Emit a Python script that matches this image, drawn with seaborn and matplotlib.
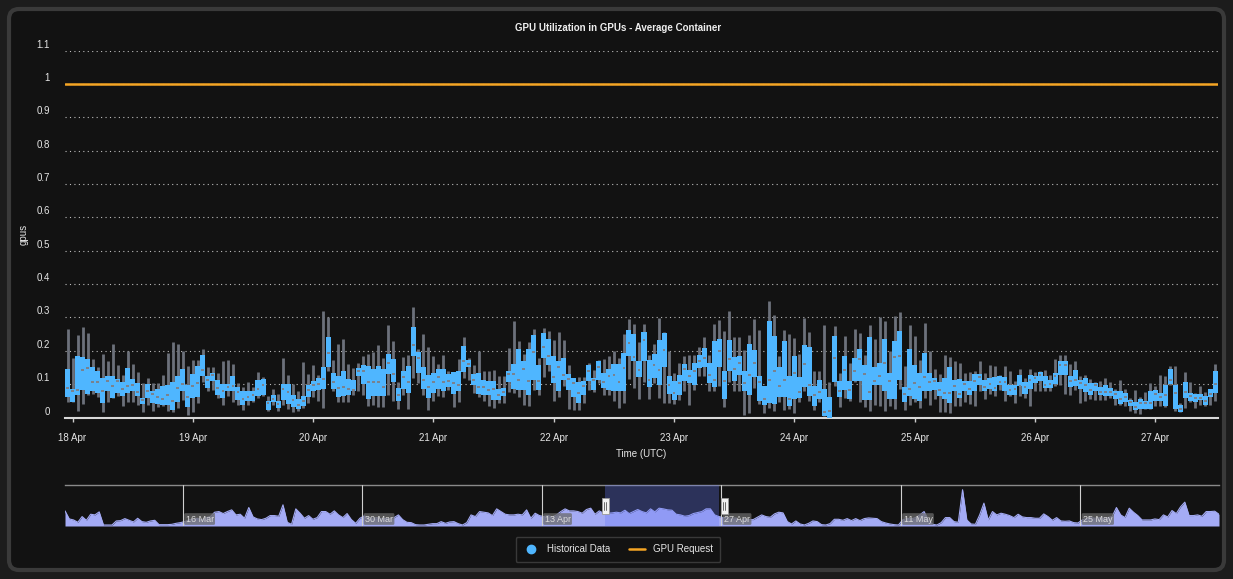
import numpy as np
import pandas as pd
import matplotlib
matplotlib.use('Agg')
import matplotlib.pyplot as plt
import matplotlib.dates as mdates
import matplotlib.transforms as mtransforms
from matplotlib.lines import Line2D
from matplotlib.patches import FancyBboxPatch, Rectangle
import seaborn as sns

# --- hourly box stats (gpus), starting 17 Apr 23:00 UTC ---
box_start = '2024-04-17 23:00'

whisker_high = [
    .266, .178, .248, .272, .253, .176, .152, .190, .169, .220,
    .157, .127, .198, .159, .136, .103, .118, .103, .103, .128,
    .192, .227, .220, .198, .155, .172, .173, .205, .152, .152,
    .133, .168, .172, .159, .103, .092, .106, .090, .136, .122,
    .063, .086, .070, .178, .128, .100, .080, .166, .130, .157,
    .128, .318, .300, .173, .220, .236, .160, .148, .163, .185,
    .190, .196, .218, .178, .278, .230, .106, .182, .188, .331,
    .206, .250, .211, .185, .160, .188, .140, .136, .176, .240,
    .178, .156, .200, .140, .138, .141, .125, .125, .208, .290,
    .230, .190, .225, .266, .178, .268, .258, .233, .255, .233,
    .158, .118, .121, .120, .163, .143, .173, .176, .185, .198,
    .178, .250, .295, .280, .225, .280, .188, .221, .298, .256,
    .198, .133, .163, .183, .188, .188, .211, .241, .186, .280,
    .291, .258, .320, .241, .241, .203, .248, .296, .261, .095,
    .350, .308, .183, .263, .250, .238, .190, .298, .256, .140,
    .140, .278, .105, .275, .133, .245, .163, .266, .253, .188,
    .278, .236, .301, .288, .198, .303, .316, .155, .278, .243,
    .173, .283, .200, .146, .131, .188, .180, .168, .163, .133,
    .136, .140, .168, .133, .158, .153, .128, .153, .138, .110,
    .146, .118, .146, .136, .140, .143, .128, .176, .188, .188,
    .160, .170, .125, .128, .115, .106, .110, .118, .106, .085,
    .113, .086, .058, .083, .061, .076, .103, .093, .128, .125,
    .153, .155, .043, .136, .106, .073, .093, .076, .086, .160,
]

upper_q = [
    .146, .085, .185, .182, .176, .152, .140, .118, .125, .125,
    .116, .106, .148, .116, .103, .059, .101, .080, .086, .095,
    .098, .106, .125, .146, .098, .131, .155, .188, .125, .133,
    .113, .101, .101, .125, .092, .078, .078, .078, .113, .116,
    .048, .068, .048, .100, .100, .068, .056, .063, .098, .110,
    .118, .151, .242, .133, .125, .140, .116, .113, .148, .158,
    .153, .146, .155, .146, .190, .176, .088, .140, .155, .270,
    .196, .150, .128, .133, .146, .146, .130, .136, .138, .215,
    .173, .131, .133, .113, .108, .108, .086, .088, .140, .160,
    .206, .168, .206, .248, .158, .253, .236, .185, .170, .178,
    .131, .118, .105, .110, .158, .118, .168, .133, .146, .161,
    .161, .193, .263, .251, .168, .255, .171, .190, .233, .253,
    .125, .110, .128, .160, .143, .163, .188, .208, .163, .228,
    .235, .140, .233, .180, .185, .138, .220, .203, .123, .095,
    .290, .245, .150, .230, .123, .183, .120, .216, .210, .093,
    .113, .085, .060, .245, .110, .185, .108, .178, .206, .158,
    .240, .150, .163, .236, .133, .230, .260, .091, .206, .158,
    .133, .193, .133, .118, .106, .118, .150, .113, .116, .110,
    .108, .131, .131, .113, .118, .120, .125, .121, .096, .096,
    .128, .106, .128, .125, .136, .125, .113, .133, .170, .170,
    .125, .143, .113, .118, .103, .103, .090, .098, .088, .078,
    .080, .073, .053, .046, .056, .050, .080, .083, .073, .096,
    .146, .098, .038, .105, .073, .070, .070, .063, .086, .140,
]

median = [
    .087, .079, .081, .141, .147, .105, .105, .080, .108, .093,
    .110, .084, .094, .097, .076, .051, .078, .069, .062, .056,
    .067, .048, .087, .099, .060, .093, .102, .143, .111, .128,
    .087, .078, .090, .093, .075, .054, .060, .067, .086, .098,
    .042, .054, .041, .084, .077, .053, .036, .048, .081, .098,
    .100, .114, .193, .105, .088, .092, .086, .082, .139, .140,
    .105, .107, .105, .090, .162, .129, .068, .121, .106, .218,
    .178, .113, .091, .106, .120, .106, .108, .102, .097, .170,
    .160, .112, .090, .090, .083, .085, .068, .075, .131, .131,
    .113, .144, .110, .195, .108, .210, .185, .120, .151, .128,
    .115, .103, .072, .095, .138, .111, .151, .106, .123, .126,
    .105, .148, .222, .182, .143, .231, .111, .156, .141, .201,
    .096, .072, .102, .144, .123, .138, .168, .178, .128, .112,
    .198, .108, .176, .144, .162, .102, .128, .162, .105, .054,
    .112, .138, .093, .111, .056, .132, .076, .160, .098, .068,
    .075, .015, .019, .178, .078, .143, .083, .140, .175, .131,
    .077, .108, .125, .164, .108, .180, .185, .071, .084, .104,
    .090, .121, .105, .108, .081, .072, .072, .093, .070, .100,
    .085, .108, .120, .090, .100, .088, .105, .105, .082, .085,
    .095, .090, .113, .118, .128, .098, .100, .125, .156, .156,
    .110, .112, .103, .096, .083, .098, .076, .075, .075, .070,
    .055, .062, .045, .031, .043, .043, .043, .070, .060, .068,
    .113, .073, .026, .075, .065, .058, .058, .048, .070, .100,
]

lower_q = [
    .060, .045, .066, .083, .070, .078, .072, .042, .078, .058,
    .073, .063, .074, .078, .063, .039, .057, .043, .040, .038,
    .038, .023, .045, .078, .030, .057, .060, .125, .087, .110,
    .066, .057, .078, .078, .051, .036, .048, .048, .063, .068,
    .023, .045, .028, .053, .041, .030, .025, .035, .062, .080,
    .083, .086, .152, .086, .060, .063, .066, .078, .125, .100,
    .055, .063, .063, .063, .131, .105, .050, .086, .073, .183,
    .132, .086, .058, .073, .086, .078, .090, .071, .078, .135,
    .150, .096, .071, .068, .066, .051, .053, .063, .105, .086,
    .081, .081, .068, .113, .083, .178, .156, .103, .078, .113,
    .083, .060, .043, .068, .110, .083, .113, .088, .081, .078,
    .078, .078, .183, .168, .120, .170, .090, .118, .098, .150,
    .071, .053, .066, .110, .103, .096, .148, .150, .103, .090,
    .150, .056, .138, .110, .126, .080, .068, .120, .050, .038,
    .043, .041, .060, .061, .033, .056, .058, .092, .065, .035,
    .056, .003, .000, .105, .060, .083, .056, .110, .110, .053,
    .053, .098, .098, .078, .056, .056, .113, .045, .063, .055,
    .048, .078, .078, .083, .063, .055, .042, .078, .058, .078,
    .066, .078, .096, .078, .085, .078, .098, .078, .068, .068,
    .093, .070, .086, .103, .110, .088, .088, .100, .126, .126,
    .090, .093, .085, .075, .066, .080, .066, .063, .063, .055,
    .041, .046, .033, .023, .026, .026, .026, .050, .048, .035,
    .100, .026, .016, .058, .050, .046, .053, .038, .060, .073,
]

whisker_low = [
    .045, .045, .019, .040, .068, .071, .061, .015, .047, .058,
    .063, .033, .047, .047, .038, .015, .038, .018, .031, .033,
    .018, .015, .028, .051, .006, .015, .042, .106, .080, .083,
    .059, .036, .063, .047, .036, .023, .038, .046, .058, .063,
    .018, .038, .018, .038, .025, .015, .018, .028, .043, .060,
    .048, .028, .138, .078, .045, .045, .045, .068, .078, .068,
    .035, .038, .030, .030, .068, .048, .025, .068, .025, .118,
    .103, .066, .023, .048, .063, .060, .083, .030, .045, .118,
    .111, .073, .061, .050, .035, .028, .043, .043, .076, .073,
    .060, .038, .035, .083, .066, .120, .138, .050, .060, .093,
    .025, .023, .023, .043, .083, .076, .103, .068, .068, .050,
    .028, .043, .115, .088, .055, .106, .056, .103, .058, .043,
    .043, .040, .053, .078, .038, .083, .123, .123, .078, .078,
    .093, .030, .106, .078, .078, .006, .013, .088, .040, .013,
    .028, .020, .046, .023, .025, .013, .045, .078, .050, .021,
    .046, .003, .000, .093, .030, .058, .050, .106, .045, .030,
    .018, .038, .033, .020, .035, .025, .086, .021, .038, .045,
    .028, .058, .038, .056, .015, .015, .013, .033, .033, .045,
    .041, .035, .078, .055, .070, .063, .083, .050, .063, .043,
    .063, .058, .035, .078, .078, .078, .078, .093, .096, .070,
    .066, .083, .043, .048, .056, .053, .053, .053, .058, .038,
    .038, .033, .018, .013, .010, .025, .026, .035, .033, .030,
    .096, .018, .016, .028, .046, .028, .038, .033, .038, .050,
]

gpu_request = 1.0

# --- navigator series (8-hourly), 6 Mar 20:00 -> 4 Jun ---
nav_start = '2024-03-06 20:00'
nav_values = [
    .45, .21, .18, .11, .28, .17, .35, .33, .42, .03,
    .03, .03, .15, .16, .22, .17, .12, .23, .13, .11,
    .15, .17, .04, .04, .04, .05, .08, .10, .13, .18,
    .21, .23, .18, .25, .28, .41, .43, .37, .43, .48,
    .33, .35, .23, .55, .27, .21, .19, .23, .31, .31,
    .29, .63, .11, .05, .51, .38, .23, .31, .20, .25,
    .43, .43, .35, .45, .33, .25, .37, .19, .08, .23,
    .30, .25, .23, .25, .21, .23, .21, .25, .33, .19,
    .11, .10, .04, .03, .03, .05, .07, .07, .13, .08,
    .12, .13, .07, .03, .10, .33, .28, .43, .41, .39,
    .31, .51, .43, .35, .33, .33, .35, .33, .48, .23,
    .38, .31, .28, .31, .27, .33, .43, .51, .45, .45,
    .43, .38, .49, .53, .35, .45, .38, .38, .39, .41,
    .39, .47, .37, .43, .49, .43, .39, .51, .42, .53,
    .51, .48, .47, .35, .33, .29, .31, .37, .40, .43,
    .51, .51, .33, .28, .25, .25, .23, .24, .15, .22,
    .19, .19, .26, .33, .28, .26, .36, .41, .39, .13,
    .06, .15, .06, .03, .08, .15, .13, .04, .03, .07,
    .20, .20, .17, .22, .16, .22, .16, .22, .24, .23,
    .22, .13, .09, .06, .04, .03, .18, .23, .21, .25,
    .33, .43, .18, .05, .03, .10, .25, .25, .13, .11,
    1.08, .18, .06, .05, .33, .68, .18, .43, .33, .38,
    .35, .31, .25, .35, .27, .25, .25, .23, .23, .36,
    .28, .17, .25, .15, .14, .15, .10, .09, .18, .23,
    .25, .23, .25, .23, .25, .28, .55, .33, .25, .53,
    .41, .31, .18, .18, .18, .21, .19, .33, .27, .46,
    .37, .57, .71, .31, .31, .33, .29, .43, .43, .44,
    .35,
]
nav_ticks = ['2024-03-16', '2024-03-30', '2024-04-13', '2024-04-27', '2024-05-11', '2024-05-25']
nav_tick_labels = ['16 Mar', '30 Mar', '13 Apr', '27 Apr', '11 May', '25 May']
sel_start, sel_end = '2024-04-17 23:00', '2024-04-26 21:00'

BG = '#121212'
TXT = '#e6e6e6'
BLUE = '#4fb6ff'
WHISK = '#6c717b'
ORANGE = '#f5a524'
NAV = '#a4abf5'

sns.set_theme(style='dark', rc={'axes.facecolor': BG, 'figure.facecolor': '#1c1c1c',
                                'text.color': TXT, 'xtick.color': TXT, 'ytick.color': TXT,
                                'axes.labelcolor': TXT})
plt.rcParams['font.family'] = ['Liberation Sans', 'DejaVu Sans']

W, H = 1233, 579
fig = plt.figure(figsize=(W / 100, H / 100), dpi=100)
frame = FancyBboxPatch((9, 9), W - 18, H - 18, boxstyle='round,pad=0,rounding_size=10',
                       transform=mtransforms.IdentityTransform(), facecolor=BG,
                       edgecolor='#3a3a3a', lw=3, zorder=-10)
fig.patches.append(frame)

# --- main chart ---
ax = fig.add_axes([65 / W, 1 - 417.5 / H, 1153 / W, 367 / H])
ax.set_zorder(2)
times = pd.date_range(box_start, periods=len(median), freq='h')
xs = mdates.date2num(times)
w = 1 / 24
q1 = np.array(lower_q)
q3 = np.array(upper_q)

ax.vlines(xs, whisker_low, whisker_high, color=WHISK, lw=2.0, zorder=2)
ax.bar(xs, q3 - q1, bottom=q1, width=w, color=BLUE, lw=0, zorder=3)
ax.hlines(median, xs - w * 0.28, xs + w * 0.28, color='#7b818c', lw=1.4, zorder=4)
ax.axhline(gpu_request, color=ORANGE, lw=1.8, zorder=5)

ax.set_xlim(xs[0] - w / 2, xs[-1] + w / 2)
ax.set_ylim(0, 1.1)
yt = np.arange(0, 1.11, 0.1)
ax.set_yticks(yt)
ax.set_yticklabels([f'{v:g}' for v in yt])
ax.yaxis.grid(True, linestyle=(0, (1, 3)), color='#bdbdbd', lw=0.8)
ax.xaxis.grid(False)
ax.tick_params(axis='y', length=0, pad=11, labelsize=7, labelcolor=TXT)
offset = mtransforms.ScaledTranslation(0, 5 / 72, fig.dpi_scale_trans)
for lab in ax.get_yticklabels():
    lab.set_transform(lab.get_transform() + offset)

ax.xaxis.set_major_locator(mdates.DayLocator())
ax.xaxis.set_major_formatter(mdates.DateFormatter('%d %b'))
ax.tick_params(axis='x', bottom=True, length=3, width=1, color='#cccccc', pad=8,
               labelsize=7, labelcolor=TXT, direction='out')
for s in ['left', 'right', 'top']:
    ax.spines[s].set_visible(False)
ax.spines['bottom'].set_color('#d8d8d8')
ax.spines['bottom'].set_linewidth(1.5)

ax.set_xlabel('Time (UTC)', fontsize=7, labelpad=4.5)
ax.set_ylabel('gpus', fontsize=7)
ax.yaxis.set_label_coords(-36 / 1153, 0.5)

fig.text(618 / W, 1 - 28 / H, 'GPU Utilization in GPUs - Average Container', ha='center',
         va='center', fontsize=7, fontweight='bold', color='#eeeeee')

# --- navigator ---
axn = fig.add_axes([65 / W, 1 - 526 / H, 1154 / W, 41 / H])
axn.set_zorder(2)
axn.set_facecolor(BG)
nav_times = pd.date_range(nav_start, periods=len(nav_values), freq='8h')
nx = mdates.date2num(nav_times)
axn.fill_between(nx, 0, nav_values, color=NAV, lw=0, zorder=2)
sns.lineplot(x=nx, y=nav_values, ax=axn, color=NAV, lw=0.8, zorder=2)
axn.set_xlim(nx[0], nx[-1])
axn.set_ylim(0, 1.22)
axn.set_xticks([])
axn.set_yticks([])
axn.grid(False)
for s in ['left', 'right', 'bottom']:
    axn.spines[s].set_visible(False)
axn.spines['top'].set_color('#8a8a8a')
axn.spines['top'].set_linewidth(1)

blend = mtransforms.blended_transform_factory(axn.transData, axn.transAxes)
lab_off = mtransforms.ScaledTranslation(3 / 100, 0, fig.dpi_scale_trans)
for d, lab in zip(nav_ticks, nav_tick_labels):
    dn = mdates.date2num(pd.Timestamp(d))
    axn.axvline(dn, color='#d0d0d0', lw=0.8, zorder=3)
    axn.text(dn, 0.17, lab, transform=blend + lab_off, ha='left', va='center', fontsize=6.5,
             color='#dcdcdc', zorder=5,
             bbox=dict(boxstyle='round,pad=0.15', fc='#6a6a6a', ec='none', alpha=0.75))

s0 = mdates.date2num(pd.Timestamp(sel_start))
s1 = mdates.date2num(pd.Timestamp(sel_end))
axn.axvspan(s0, s1, color='#6678f5', alpha=0.32, lw=0, zorder=4)
hw = 7 / 12.82
for hx in [s0 - hw / 2, s1 + 0.1]:
    axn.add_patch(Rectangle((hx, 0.3), hw, 0.38, transform=blend, fc='#f2f2f2',
                            ec='#999999', lw=0.6, zorder=6))
    for dx in [0.36, 0.64]:
        axn.plot([hx + hw * dx] * 2, [0.4, 0.58], transform=blend, color='#555555',
                 lw=0.6, zorder=7)

# --- legend ---
handles = [Line2D([], [], marker='o', ls='', color=BLUE, markersize=6, label='Historical Data'),
           Line2D([], [], color=ORANGE, lw=1.8, label='GPU Request')]
leg = fig.legend(handles=handles, loc='center', bbox_to_anchor=(618 / W, 1 - 549.5 / H), ncol=2,
                 frameon=True, fontsize=7, labelcolor=TXT, facecolor=BG, edgecolor='#444444',
                 handlelength=1.6, columnspacing=2.0, borderpad=0.8, fancybox=True)
leg.get_frame().set_linewidth(1)

fig.savefig('out.png', dpi=100, facecolor=fig.get_facecolor())
